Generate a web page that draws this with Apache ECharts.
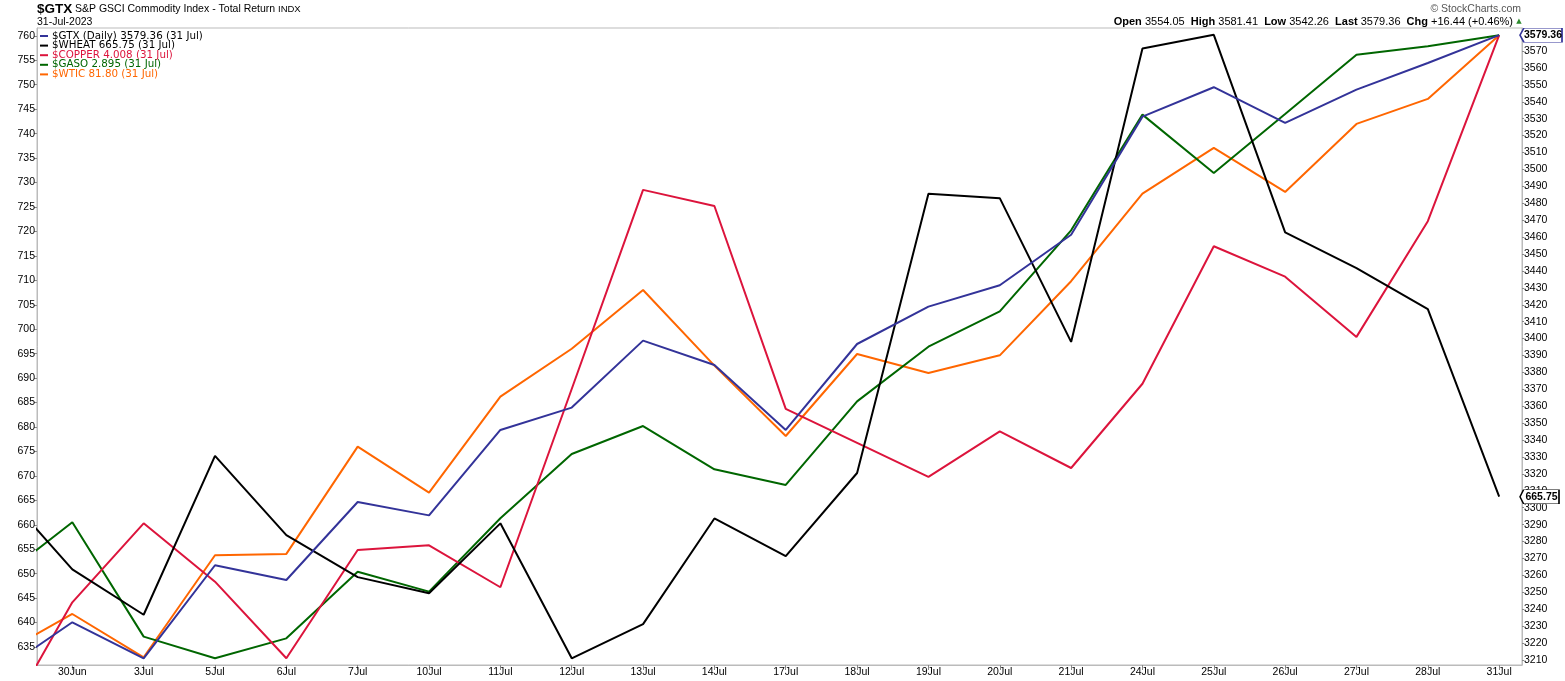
<!DOCTYPE html>
<html><head><meta charset="utf-8">
<script src="https://cdn.jsdelivr.net/npm/echarts@6/dist/echarts.min.js"></script>
<style>html,body{margin:0;padding:0;background:#fff}#c{width:1565px;height:681px}</style>
</head><body><div id="c"></div>
<script>
// Trading days (first one sits just left of the visible window)
const dates = ['29Jun','30Jun','3Jul','5Jul','6Jul','7Jul','10Jul','11Jul','12Jul','13Jul','14Jul','17Jul','18Jul','19Jul','20Jul','21Jul','24Jul','25Jul','26Jul','27Jul','28Jul','31Jul'];
// $GTX close (right axis)
const gtx = [3203.4,3232.3,3211.0,3266.0,3257.3,3303.4,3295.5,3346.0,3359.2,3398.8,3384.4,3346.0,3396.8,3418.9,3431.5,3461.4,3531.2,3548.6,3527.5,3547.2,3562.92,3579.36];
// $WHEAT close (left axis)
const wheat = [667.3,650.9,641.6,674.1,657.9,649.3,646.0,660.3,632.7,639.7,661.3,653.6,670.6,727.7,726.8,697.4,757.4,760.2,719.8,712.5,704.1,665.75];
// Overlays drawn on the $GTX price scale (values read in right-axis units)
const copper = [3169.8,3244.1,3290.8,3256.3,3211.0,3275.0,3277.8,3253.0,3370.2,3487.9,3478.4,3358.4,3338.3,3318.2,3345.2,3323.5,3373.3,3454.6,3436.6,3401.0,3469.4,3579.36];
const gaso = [3258.7,3291.4,3223.8,3211.0,3222.8,3262.2,3250.4,3293.8,3331.8,3348.3,3322.7,3313.5,3362.9,3395.2,3416.1,3464.0,3532.4,3497.9,3532.8,3567.8,3572.8,3579.36];
const wtic = [3213.5,3237.2,3211.6,3271.9,3272.7,3336.1,3308.9,3365.7,3394.0,3428.7,3384.0,3342.4,3390.9,3379.7,3390.1,3433.9,3485.7,3512.7,3486.7,3526.9,3541.7,3579.36];
// Tick labels
const xTickIdx = [1,2,3,4,5,6,7,8,9,10,11,12,13,14,15,16,17,18,19,20,21];
const leftTicks = [635,640,645,650,655,660,665,670,675,680,685,690,695,700,705,710,715,720,725,730,735,740,745,750,755,760];
const rightTicks = [3210,3220,3230,3240,3250,3260,3270,3280,3290,3300,3310,3320,3330,3340,3350,3360,3370,3380,3390,3400,3410,3420,3430,3440,3450,3460,3470,3480,3490,3500,3510,3520,3530,3540,3550,3560,3570];
const names = ['$GTX (Daily) 3579.36 (31 Jul)','$WHEAT 665.75 (31 Jul)','$COPPER 4.008 (31 Jul)','$GASO 2.895 (31 Jul)','$WTIC 81.80 (31 Jul)'];

const X_MIN = 0.505, X_MAX = 21.32;
const C_GTX = '#333399', C_WHEAT = '#000000', C_COPPER = '#dc143c', C_GASO = '#006600', C_WTIC = '#ff6600';
const AX = '#bbbbbb';
const FONT = '"Liberation Sans", Arial, sans-serif';

const pairs = arr => arr.map((v, i) => [i, v]);
const last = arr => arr[arr.length - 1];

function boxMark(value, borderColor, width) {
  return {
    silent: true,
    symbol: 'path://M0,7 L4,0 L44,0 L44,14 L4,14 Z',
    symbolKeepAspect: false,
    symbolSize: [width, 14],
    symbolOffset: [width / 2 - 2, 0],
    itemStyle: { color: '#fff', borderColor: borderColor, borderWidth: 1 },
    label: { show: true, position: 'inside', offset: [2, 0], color: '#000', fontWeight: 'bold', fontSize: 10.5, fontFamily: FONT,
      formatter: () => value.toFixed(2) },
    data: [{ coord: [X_MAX, value] }]
  };
}

function line(name, data, color, yIdx, extra) {
  return Object.assign({
    name, type: 'line', yAxisIndex: yIdx, data: pairs(data), showSymbol: false, symbol: 'none',
    lineStyle: { width: 2, color }, itemStyle: { color }, clip: true, silent: true,
    emphasis: { disabled: true }, animation: false
  }, extra || {});
}

const option = {
  animation: false,
  backgroundColor: '#fff',
  grid: { left: 37, right: 43, top: 28, bottom: 16, show: true, borderColor: AX, borderWidth: 1, backgroundColor: 'transparent' },
  legend: {
    orient: 'vertical', left: 40, top: 31, padding: 0, itemGap: -0.4, itemWidth: 8, itemHeight: 2, icon: 'rect', selectedMode: false,
    textStyle: { fontFamily: '"DejaVu Sans", Verdana, sans-serif', fontSize: 10.3, lineHeight: 10, padding: [0, 0, 0, -1] },
    data: [
      { name: names[0], textStyle: { color: '#000' } },
      { name: names[1], textStyle: { color: '#000' } },
      { name: names[2], textStyle: { color: C_COPPER } },
      { name: names[3], textStyle: { color: C_GASO } },
      { name: names[4], textStyle: { color: C_WTIC } }
    ]
  },
  xAxis: {
    type: 'value', min: X_MIN, max: X_MAX,
    axisLine: { lineStyle: { color: AX } },
    axisTick: { customValues: xTickIdx, length: 5, lineStyle: { color: '#888' } },
    axisLabel: { customValues: xTickIdx, formatter: v => dates[Math.round(v)], margin: 2, color: '#000', fontSize: 10.5, fontFamily: FONT },
    splitLine: { show: false }
  },
  yAxis: [
    {
      type: 'value', position: 'left', min: 631.33, max: 761.6,
      axisLine: { show: true, lineStyle: { color: AX } },
      axisTick: { show: true, customValues: leftTicks, length: 3, lineStyle: { color: '#888' } },
      axisLabel: { customValues: leftTicks, formatter: v => String(v), margin: 2, color: '#000', fontSize: 10.5, fontFamily: FONT },
      splitLine: { show: false }
    },
    {
      type: 'value', position: 'right', min: 3207.04, max: 3583.6,
      axisLine: { show: true, lineStyle: { color: AX } },
      axisTick: { show: true, customValues: rightTicks, length: 2, lineStyle: { color: '#888' } },
      axisLabel: { customValues: rightTicks, formatter: v => String(v), margin: 2, color: '#000', fontSize: 10.5, fontFamily: FONT },
      splitLine: { show: false }
    }
  ],
  series: [
    line(names[4], wtic, C_WTIC, 1),
    line(names[3], gaso, C_GASO, 1),
    line(names[2], copper, C_COPPER, 1),
    line(names[1], wheat, C_WHEAT, 0, { markPoint: boxMark(last(wheat), '#000', 39) }),
    line(names[0], gtx, C_GTX, 1, { markPoint: boxMark(last(gtx), C_GTX, 42) })
  ],
  graphic: [
    { type: 'text', x: 37, y: 9, style: { text: '$GTX', font: 'bold 13.5px ' + FONT, fill: '#000', verticalAlign: 'middle' } },
    { type: 'text', x: 75, y: 9.5, style: { text: 'S&P GSCI Commodity Index - Total Return', font: '10.5px ' + FONT, fill: '#000', verticalAlign: 'middle' } },
    { type: 'text', x: 278, y: 9.5, style: { text: 'INDX', font: '9.5px ' + FONT, fill: '#000', verticalAlign: 'middle' } },
    { type: 'text', x: 37, y: 22, style: { text: '31-Jul-2023', font: '10.5px ' + FONT, fill: '#000', verticalAlign: 'middle' } },
    { type: 'text', x: 1521, y: 9, style: { text: '\u00A9 StockCharts.com', font: '10.5px ' + FONT, fill: '#555', align: 'right', verticalAlign: 'middle' } },
    { type: 'text', x: 1513, y: 22, style: {
      text: '{b|Open} 3554.05  {b|High} 3581.41  {b|Low} 3542.26  {b|Last} 3579.36  {b|Chg} +16.44 (+0.46%)',
      font: '11px ' + FONT, fill: '#000', align: 'right', verticalAlign: 'middle',
      rich: { b: { fontWeight: 'bold', fontSize: 11, fontFamily: FONT, fill: '#000' } } } },
    { type: 'text', x: 1519, y: 21.5, style: { text: '\u25B2', font: '7px "DejaVu Sans"', fill: '#2e8b2e', align: 'center', verticalAlign: 'middle' } }
  ]
};

const chart = echarts.init(document.getElementById('c'), null, { renderer: 'canvas' });
chart.setOption(option);
</script></body></html>
